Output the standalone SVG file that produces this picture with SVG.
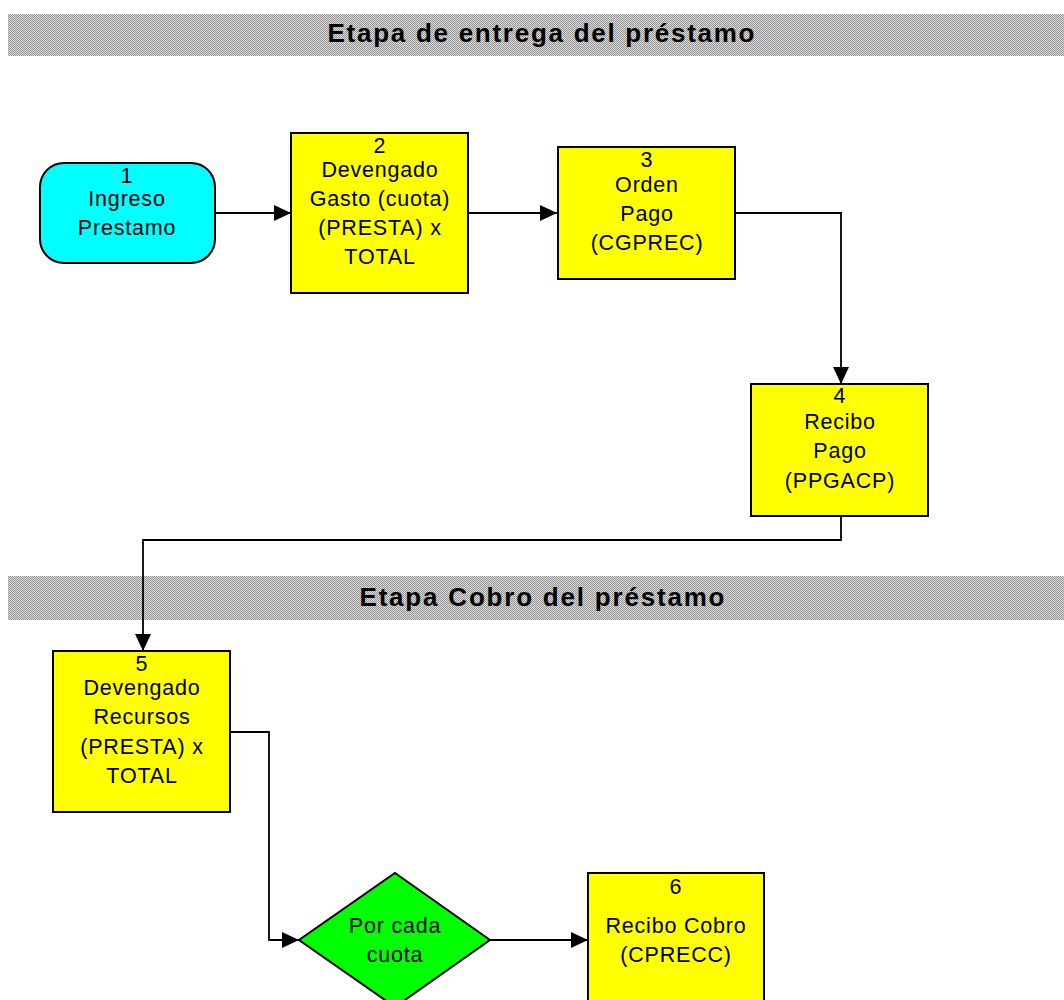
<svg xmlns="http://www.w3.org/2000/svg" width="1064" height="1000" viewBox="0 0 1064 1000">
<style>
.node{stroke:#000;stroke-width:2}
.proc{fill:#ffff00}
.start{fill:#00ffff}
.dec{fill:#00ff00}
.t{font-family:"Liberation Sans",Arial,sans-serif;font-size:21.5px;letter-spacing:0.8px;text-anchor:middle;fill:#000}
.title{font-family:"Liberation Sans",Arial,sans-serif;font-size:26px;font-weight:bold;text-anchor:middle;fill:#000}
.conn{fill:none;stroke:#000;stroke-width:1.8}
</style>
<defs>
<pattern id="dots" width="2" height="2" patternUnits="userSpaceOnUse">
<rect width="2" height="2" fill="#dadada"/>
<rect x="0" y="0" width="1" height="1" fill="#969696"/>
<rect x="1" y="1" width="1" height="1" fill="#969696"/>
</pattern>
<marker id="arr" markerUnits="userSpaceOnUse" markerWidth="17" markerHeight="16" refX="17" refY="8" orient="auto">
<path d="M0,0 L17,8 L0,16 z" fill="#000"/>
</marker>
</defs>
<g id="banner1">
<rect x="8" y="14" width="1056" height="42" fill="url(#dots)"/>
<text class="title" x="541" y="42" textLength="427" lengthAdjust="spacing">Etapa de entrega del préstamo</text>
</g>
<g id="banner2">
<rect x="8" y="576" width="1056" height="44" fill="url(#dots)"/>
<text class="title" x="542" y="606" textLength="365" lengthAdjust="spacing">Etapa Cobro del préstamo</text>
</g>
<g id="connectors">
<path class="conn" d="M215,213 L291,213" marker-end="url(#arr)"/>
<path class="conn" d="M468,213 L557,213" marker-end="url(#arr)"/>
<path class="conn" d="M735,213 L841,213 L841,384" marker-end="url(#arr)"/>
<path class="conn" d="M841,516 L841,540 L143,540 L143,651" marker-end="url(#arr)"/>
<path class="conn" d="M230,732 L269,732 L269,940 L299,940" marker-end="url(#arr)"/>
<path class="conn" d="M490,940 L588,940" marker-end="url(#arr)"/>
</g>
<g id="node1">
<rect class="node start" x="40" y="163" width="175" height="100" rx="24" ry="24"/>
<text class="t" x="127" y="183">1</text>
<text class="t" x="127" y="206">Ingreso</text>
<text class="t" x="127" y="235">Prestamo</text>
</g>
<g id="node2">
<rect class="node proc" x="291" y="133" width="177" height="160"/>
<text class="t" x="380" y="153">2</text>
<text class="t" x="380" y="177">Devengado</text>
<text class="t" x="380" y="206">Gasto (cuota)</text>
<text class="t" x="380" y="235">(PRESTA) x</text>
<text class="t" x="380" y="264">TOTAL</text>
</g>
<g id="node3">
<rect class="node proc" x="558" y="147" width="177" height="132"/>
<text class="t" x="647" y="167">3</text>
<text class="t" x="647" y="192">Orden</text>
<text class="t" x="647" y="221">Pago</text>
<text class="t" x="647" y="250">(CGPREC)</text>
</g>
<g id="node4">
<rect class="node proc" x="751" y="384" width="177" height="132"/>
<text class="t" x="840" y="403">4</text>
<text class="t" x="840" y="429">Recibo</text>
<text class="t" x="840" y="458">Pago</text>
<text class="t" x="840" y="488">(PPGACP)</text>
</g>
<g id="node5">
<rect class="node proc" x="53" y="651" width="177" height="161"/>
<text class="t" x="142" y="671">5</text>
<text class="t" x="142" y="695">Devengado</text>
<text class="t" x="142" y="724">Recursos</text>
<text class="t" x="142" y="754">(PRESTA) x</text>
<text class="t" x="142" y="783">TOTAL</text>
</g>
<g id="decision">
<polygon class="node dec" points="395,873 490,940 395,1007 299,940"/>
<text class="t" x="395" y="933">Por cada</text>
<text class="t" x="395" y="962">cuota</text>
</g>
<g id="node6">
<rect class="node proc" x="588" y="873" width="176" height="140"/>
<text class="t" x="676" y="894">6</text>
<text class="t" x="676" y="933">Recibo Cobro</text>
<text class="t" x="676" y="962">(CPRECC)</text>
</g>
</svg>
